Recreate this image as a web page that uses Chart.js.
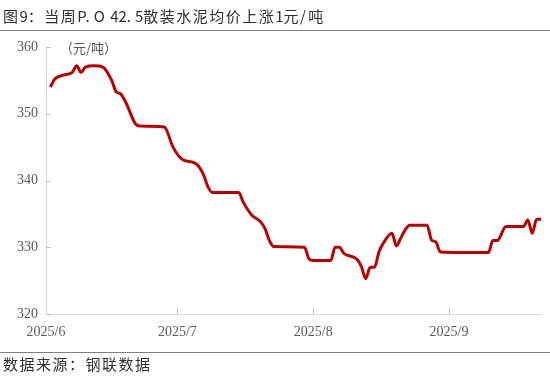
<!DOCTYPE html>
<html>
<head>
<meta charset="utf-8">
<script src="https://cdn.jsdelivr.net/npm/chart.js@4.4.1/dist/chart.umd.min.js"></script>
<style>
  html, body { margin: 0; padding: 0; background: #fff; }
  canvas { display: block; }
</style>
</head>
<body>
<canvas id="cement" width="550" height="381"></canvas>
<script>
// 当周P.O 42.5散装水泥均价（元/吨）
const dates = [
  '2025-06-02', '2025-06-03', '2025-06-05', '2025-06-07', '2025-06-08', '2025-06-09', '2025-06-10',
  '2025-06-12', '2025-06-14', '2025-06-16', '2025-06-17', '2025-06-18', '2025-06-19', '2025-06-22',
  '2025-06-28', '2025-06-30', '2025-07-02', '2025-07-05', '2025-07-06', '2025-07-07', '2025-07-08',
  '2025-07-09', '2025-07-15', '2025-07-16', '2025-07-18', '2025-07-20', '2025-07-21', '2025-07-22',
  '2025-07-23', '2025-07-30', '2025-07-31', '2025-08-01', '2025-08-05', '2025-08-06', '2025-08-07',
  '2025-08-08', '2025-08-11', '2025-08-12', '2025-08-13', '2025-08-14', '2025-08-15', '2025-08-16',
  '2025-08-17', '2025-08-19', '2025-08-20', '2025-08-21', '2025-08-22', '2025-08-23', '2025-08-27',
  '2025-08-28', '2025-08-29', '2025-08-30', '2025-09-10', '2025-09-11', '2025-09-12', '2025-09-14',
  '2025-09-18', '2025-09-19', '2025-09-20', '2025-09-21', '2025-09-22'
];
const prices = [
  354, 355.2, 355.8, 356.2, 357.2, 356.2, 357,
  357.2, 357, 355, 353.3, 353, 352, 348.2,
  348, 345, 343.2, 342.6, 342, 340.8, 339,
  338.2, 338.2, 336.8, 334.8, 333.8, 332.8, 331,
  330.1, 330, 328.3, 328, 328, 330, 330,
  329.1, 328.2, 327.1, 325.3, 327, 327, 329.3,
  330.6, 332.1, 330.2, 331.4, 332.6, 333.3, 333.3,
  331.1, 330.8, 329.3, 329.2, 331, 331, 333.1,
  333.1, 334.1, 332.1, 334.2, 334.2
];
const monthTicks = ['2025-06-01', '2025-07-01', '2025-08-01', '2025-09-01'];
const monthLabels = ['2025/6', '2025/7', '2025/8', '2025/9'];
const yTicks = [320, 330, 340, 350, 360];

const DAY = 86400000;
const origin = Date.parse('2025-06-01');
const dayOf = d => (Date.parse(d) - origin) / DAY;
const tickDays = monthTicks.map(dayOf);

const serif = "'Liberation Serif', 'DejaVu Serif', serif";
const cjk = "'Noto Sans CJK SC', 'Noto Sans', sans-serif";

// fixed-pitch text: full width chars 16.5px, half width 8.25px
function gridText(ctx, str, x, y) {
  for (const ch of str) {
    ctx.fillText(ch, x, y);
    x += ch.charCodeAt(0) > 0x2000 ? 16.5 : 8.25;
  }
}

const frame = {
  id: 'frame',
  afterDraw(chart) {
    const ctx = chart.ctx;
    const x = chart.scales.x, y = chart.scales.y;
    ctx.save();
    // inner tick marks
    ctx.strokeStyle = '#BFBFBF';
    ctx.lineWidth = 1;
    ctx.beginPath();
    tickDays.slice(1).forEach(d => {
      const px = Math.round(x.getPixelForValue(d)) + 0.5;
      ctx.moveTo(px, y.bottom);
      ctx.lineTo(px, y.bottom - 6);
    });
    yTicks.forEach(v => {
      const py = Math.round(y.getPixelForValue(v)) + 0.5;
      ctx.moveTo(x.left, py);
      ctx.lineTo(x.left + 5, py);
    });
    ctx.stroke();
    // unit
    ctx.fillStyle = '#595959';
    ctx.font = '13px ' + cjk;
    ctx.textBaseline = 'middle';
    ctx.fillText('（元/吨）', x.left + 14, y.top + 1);
    // title and source
    ctx.fillStyle = '#303030';
    ctx.font = '15px ' + cjk;
    gridText(ctx, '图9：当周P.O 42.5散装水泥均价上涨1元/吨', 3, 16);
    gridText(ctx, '数据来源：钢联数据', 3, 364);
    ctx.strokeStyle = '#7F7F7F';
    ctx.beginPath();
    ctx.moveTo(0, 30.5); ctx.lineTo(550, 30.5);
    ctx.moveTo(0, 352.5); ctx.lineTo(550, 352.5);
    ctx.stroke();
    ctx.restore();
  }
};

new Chart(document.getElementById('cement'), {
  type: 'line',
  data: {
    datasets: [{
      data: dates.map((d, i) => ({ x: dayOf(d), y: prices[i] })),
      borderColor: '#C00000',
      borderWidth: 3,
      pointRadius: 0,
      cubicInterpolationMode: 'monotone',
      fill: false
    }]
  },
  options: {
    responsive: false,
    animation: false,
    layout: { padding: { left: 0, top: 47, right: 9, bottom: 40 } },
    plugins: { legend: { display: false }, tooltip: { enabled: false } },
    scales: {
      x: {
        type: 'linear',
        min: 0,
        max: 113,
        afterBuildTicks: s => { s.ticks = tickDays.map(v => ({ value: v })); },
        afterFit: s => { s.height = 27; },
        grid: { display: false, drawTicks: false },
        border: { color: '#D9D9D9', width: 1 },
        ticks: {
          autoSkip: false,
          maxRotation: 0,
          padding: 10,
          color: '#595959',
          font: { family: serif, size: 14 },
          callback: v => monthLabels[tickDays.indexOf(v)]
        }
      },
      y: {
        min: 320,
        max: 360,
        afterBuildTicks: s => { s.ticks = yTicks.map(v => ({ value: v })); },
        afterFit: s => { s.width = 46; },
        grid: { display: false, drawTicks: false },
        border: { color: '#D9D9D9', width: 1 },
        ticks: {
          padding: 8,
          color: '#595959',
          font: { family: serif, size: 14 }
        }
      }
    }
  },
  plugins: [frame]
});
</script>
</body>
</html>
